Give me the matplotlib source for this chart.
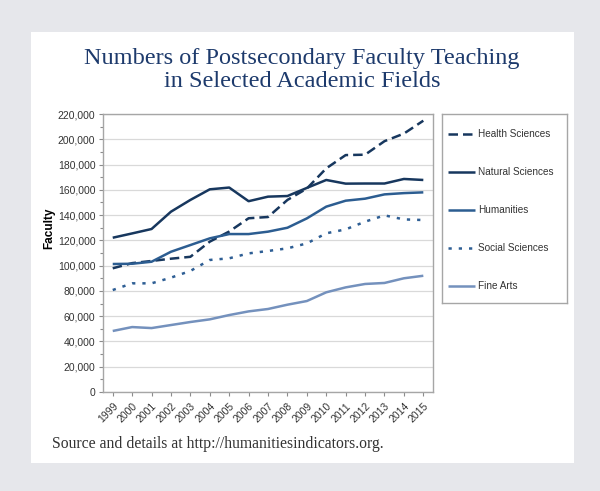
import numpy as np
import matplotlib
matplotlib.use('Agg')
from matplotlib import pyplot as plt
from matplotlib.patches import Rectangle
from matplotlib.ticker import MultipleLocator, FuncFormatter

# Data (thousands of faculty)
years = [str(y) for y in range(1999, 2016)]
health = [97.9, 102.0, 103.7, 105.5, 107.0, 119.0, 127.0, 137.5, 138.5, 152.0, 161.0, 177.0, 187.5, 187.8, 198.5, 204.5, 214.7]
natural = [122.1, 125.5, 129.0, 142.7, 152.0, 160.4, 161.8, 151.0, 154.6, 155.1, 161.5, 167.8, 164.9, 165.0, 165.0, 168.6, 167.8]
humanities = [101.3, 101.5, 103.1, 111.0, 116.3, 121.6, 125.0, 125.0, 126.9, 130.0, 137.4, 146.7, 151.4, 153.0, 156.4, 157.4, 158.0]
social = [80.7, 86.0, 86.0, 90.5, 95.8, 104.5, 105.8, 109.7, 111.6, 113.7, 117.6, 125.6, 128.7, 134.8, 139.8, 136.6, 136.1]
fine_arts = [48.3, 51.4, 50.6, 53.0, 55.4, 57.5, 60.9, 63.8, 65.7, 69.1, 72.0, 78.9, 82.8, 85.5, 86.3, 90.0, 92.0]

series = [
    ('Health Sciences', health, '#17375e', (0, (3.8, 2.0))),
    ('Natural Sciences', natural, '#17375e', '-'),
    ('Humanities', humanities, '#2c5d91', '-'),
    ('Social Sciences', social, '#2e5e94', (0, (1.3, 2.8))),
    ('Fine Arts', fine_arts, '#7491bd', '-'),
]

fig = plt.figure(figsize=(6, 4.91), dpi=100)
fig.patch.set_facecolor('#e6e7eb')
# white card behind everything
card = Rectangle((0.0517, 0.057), 0.9053, 0.878, transform=fig.transFigure,
                 facecolor='white', edgecolor='none', zorder=-10)
fig.patches.append(card)

fig.text(0.503, 0.857, 'Numbers of Postsecondary Faculty Teaching\nin Selected Academic Fields',
         ha='center', va='center', family='Liberation Serif', fontsize=17.5,
         color='#1d3a6c', linespacing=1.15)
fig.text(0.087, 0.096, 'Source and details at http://humanitiesindicators.org.',
         ha='left', va='center', family='Liberation Serif', fontsize=11.3, color='#333333')

ax = fig.add_axes([0.1717, 0.2016, 0.55, 0.5662])
ax.set_facecolor('none')
x = np.arange(len(years))
handles = []
for name, vals, color, ls in series:
    h, = ax.plot(x, np.array(vals) * 1000, color=color, lw=1.8, ls=ls, label=name,
                 solid_capstyle='butt', dash_capstyle='butt')
    handles.append(h)

ax.set_xlim(-0.5, len(years) - 0.5)
ax.set_ylim(0, 220000)
ax.yaxis.set_major_locator(MultipleLocator(20000))
ax.yaxis.set_minor_locator(MultipleLocator(10000))
ax.yaxis.set_major_formatter(FuncFormatter(lambda v, p: f'{int(v):,}'))
ax.set_xticks(x)
ax.set_xticklabels(years, rotation=45, ha='right', rotation_mode='anchor')
ax.tick_params(axis='both', labelsize=7.5, colors='#8c8c8c', labelcolor='#333333',
               length=3, width=0.8, direction='out')
ax.tick_params(axis='y', pad=2.5)
ax.tick_params(axis='y', which='minor', length=2, width=0.8, colors='#8c8c8c')
for lab in ax.get_xticklabels() + ax.get_yticklabels():
    lab.set_family('Liberation Sans')
ax.grid(axis='y', color='#d9d9d9', lw=0.9)
ax.set_axisbelow(True)
for sp in ax.spines.values():
    sp.set_color('#a6a6a6')
    sp.set_linewidth(1.0)
ax.set_ylabel('Faculty', family='Liberation Sans', fontsize=8.5, fontweight='bold',
              color='black')
ax.yaxis.set_label_coords(-0.145, 0.59)

# legend in its own framed box
lax = fig.add_axes([0.7367, 0.383, 0.2083, 0.385])
lax.set_facecolor('none')
lax.set_xticks([])
lax.set_yticks([])
for sp in lax.spines.values():
    sp.set_color('#a6a6a6')
    sp.set_linewidth(1.0)
leg = lax.legend(handles=handles, loc='center left', frameon=False,
                 bbox_to_anchor=(0, 0.49),
                 prop={'family': 'Liberation Sans', 'size': 7.2},
                 handlelength=2.7, handletextpad=0.3, labelspacing=2.8,
                 borderaxespad=0.2)
for t in leg.get_texts():
    t.set_color('#333333')

fig.savefig('out.png', dpi=100, facecolor=fig.get_facecolor())
